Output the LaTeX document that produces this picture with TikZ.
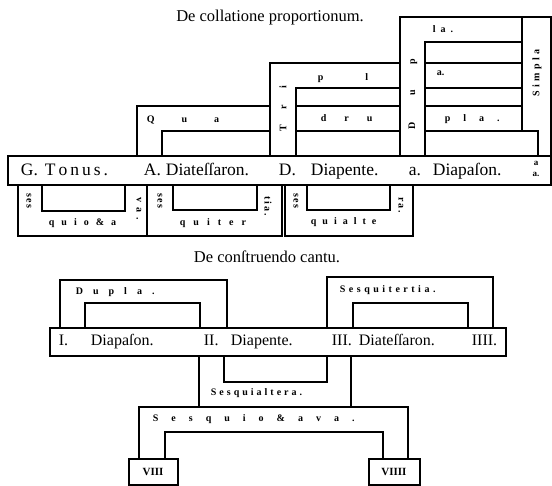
\documentclass[tikz,border=0pt]{standalone}
\usepackage{fontspec}
\setmainfont{Liberation Serif}
\newcommand\gapped[2]{\def\gapamount{#1}\gappedloop#2\relax}
\def\gappedloop#1{\ifx\relax#1\unskip\else#1\hspace{\gapamount}\expandafter\gappedloop\fi}

\begin{document}
\begin{tikzpicture}[x=1pt,y=-1pt,line width=1.8pt,
  labtitle/.style={font=\fontsize{16.5}{18}\selectfont,anchor=base,inner sep=0pt},
  labbig/.style={font=\fontsize{17.5}{19}\selectfont,anchor=base west,inner sep=0pt},
  labmid/.style={font=\fontsize{16}{18}\selectfont,anchor=base west,inner sep=0pt},
  labsmall/.style={font=\fontsize{10}{11}\selectfont\bfseries,anchor=base west,inner sep=0pt},
  labup/.style={labsmall,anchor=center,rotate=90},
  labdown/.style={labsmall,anchor=center,rotate=-90},
  labnum/.style={labsmall,anchor=center,font=\fontsize{11}{12}\selectfont\bfseries}]

\useasboundingbox (0,0) rectangle (552,486);

\node[labtitle] (title1) at (270,22) {De collatione proportionum.};

\draw (8,156) rectangle (551,185);

\draw (137,156) -- (137,106) -- (270,106);
\draw (162,156) -- (162,131) -- (270,131);
\draw (296,106) -- (400,106);
\draw (296,131) -- (400,131);
\draw (425,106) -- (522,106);
\draw (425,131) -- (538,131) -- (538,156);

\draw (270,156) -- (270,63) -- (400,63);
\draw (296,156) -- (296,88) -- (400,88);
\draw (425,63) -- (522,63);
\draw (425,88) -- (522,88);

\draw (400,156) -- (400,17) -- (551,17) -- (551,156);
\draw (425,156) -- (425,42) -- (522,42);
\draw (522,17) -- (522,131);

\draw (18,185) -- (18,236) -- (147,236) -- (147,185);
\draw (42,185) -- (42,211) -- (125,211) -- (125,185);
\draw (147,236) -- (282,236) -- (282,185);
\draw (173,185) -- (173,210) -- (257,210) -- (257,185);
\draw (285,185) -- (285,236) -- (413,236) -- (413,185);
\draw (307,185) -- (307,210) -- (390,210) -- (390,185);

\node[labbig] (G) at (20,176) {G.};
\node[labbig] (Tonus) at (44,176) {\gapped{3pt}{Tonus.}};
\node[labbig] (A) at (143,176) {A.};
\node[labbig] (Diatess) at (165,176) {Diateſſaron.};
\node[labbig] (D) at (278,176) {D.};
\node[labbig] (Diapente) at (310,176) {Diapente.};
\node[labbig] (a) at (408,176) {a.};
\node[labbig] (Diapason) at (432,176) {Diapaſon.};
\node[labsmall,anchor=center,align=center,font=\fontsize{9}{11}\selectfont\bfseries] (aa) at (536,169) {a\\a.};

\node[labsmall] (Quaa) at (146,123) {\gapped{27pt}{Qua}};
\node[labsmall] (Quab) at (320,122) {\gapped{18pt}{dru}};
\node[labsmall] (Quac) at (444,122) {\gapped{13pt}{pla.}};
\node[labup] (Tria) at (283,109) {\gapped{16pt}{Tri}};
\node[labsmall] (Trib) at (317,81) {\gapped{42pt}{pl}};
\node[labsmall] (Tric) at (436,76) {a.};
\node[labup] (Dupa) at (413,94) {\gapped{26pt}{Dup}};
\node[labsmall] (Dupb) at (432,33) {\gapped{5pt}{la.}};
\node[labup] (Simpla) at (537,73) {\gapped{3.5pt}{Simpla}};

\node[labdown] (Octa) at (29,201) {\gapped{1pt}{ses}};
\node[labsmall] (Octb) at (48,226) {\gapped{7pt}{quio\&a}};
\node[labdown] (Octc) at (139,209) {\gapped{5pt}{va.}};
\node[labdown] (Tera) at (160,201) {\gapped{1pt}{ses}};
\node[labsmall] (Terb) at (179,226) {\gapped{8pt}{quiter}};
\node[labdown] (Terc) at (268,206) {\gapped{2pt}{tia.}};
\node[labdown] (Alta) at (296,201) {\gapped{1pt}{ses}};
\node[labsmall] (Altb) at (310,225) {\gapped{6pt}{quialte}};
\node[labdown] (Altc) at (401,205) {\gapped{2pt}{ra.}};

\node[labtitle] (title2) at (267,263) {De conſtruendo cantu.};

\draw (50,328) rectangle (506,356);

\draw (60,328) -- (60,280) -- (227,280) -- (227,328);
\draw (85,328) -- (85,303) -- (200,303) -- (200,328);
\draw (327,328) -- (327,277) -- (493,277) -- (493,328);
\draw (353,328) -- (353,303) -- (468,303) -- (468,328);
\draw (199,356) -- (199,407);
\draw (351,356) -- (351,407);
\draw (224,356) -- (224,382) -- (327,382) -- (327,356);
\draw (139,459) -- (139,407) -- (408,407) -- (408,459);
\draw (165,459) -- (165,432) -- (383,432) -- (383,459);
\draw (129,459) rectangle (178,485);
\draw (369,459) rectangle (420,485);

\node[labmid] (I) at (58,346) {I.};
\node[labmid] (Idiap) at (90,346) {Diapaſon.};
\node[labmid] (II) at (203,346) {II.};
\node[labmid] (IIdiap) at (230,346) {Diapente.};
\node[labmid] (III) at (331,346) {III.};
\node[labmid] (IIIdiat) at (358,346) {Diateſſaron.};
\node[labmid] (IIII) at (471,346) {IIII.};

\node[labsmall] (Dupla) at (75,295) {\gapped{10pt}{Dupla.}};
\node[labsmall] (Sesqter) at (339,293) {\gapped{3.5pt}{Sesquitertia.}};
\node[labsmall] (Sesqalt) at (210,396) {\gapped{3pt}{Sesquialtera.}};
\node[labsmall] (Sesqoct) at (152,422) {\gapped{13pt}{Sesquio\&ava.}};
\node[labnum] (VIII) at (153,472) {VIII};
\node[labnum] (VIIII) at (394,472) {VIIII};

\end{tikzpicture}
\end{document}
